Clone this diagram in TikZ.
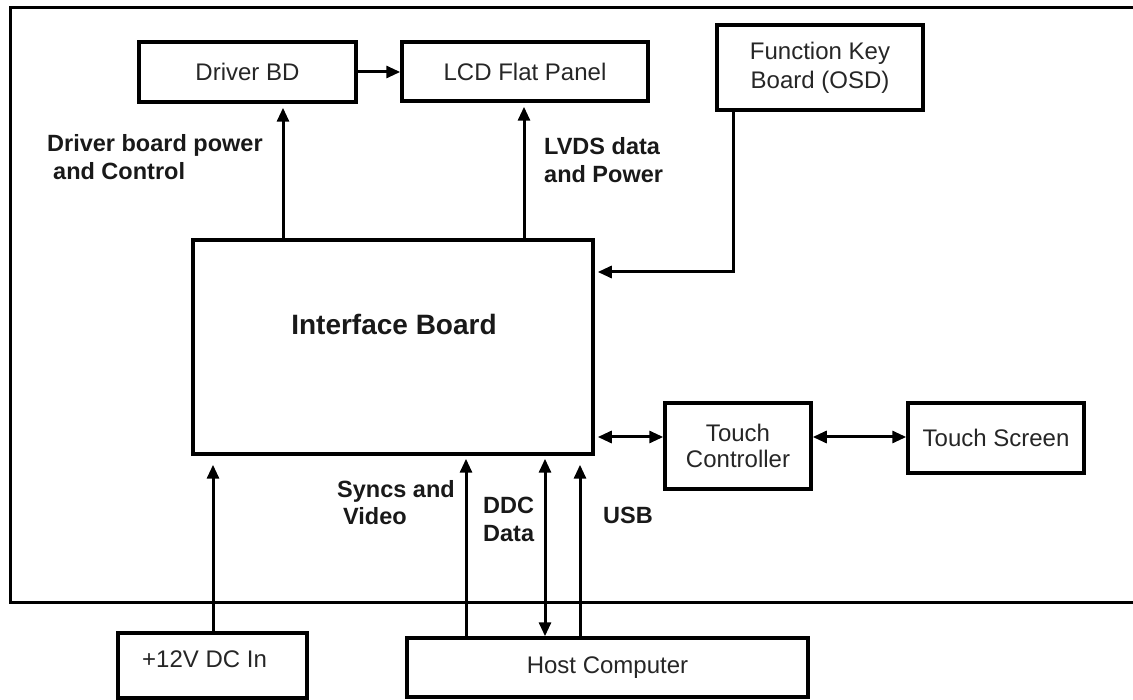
\documentclass[tikz,border=0pt]{standalone}
\usepackage{fontspec}
\setmainfont{Liberation Sans}
\usetikzlibrary{arrows.meta}
\newcommand\fsz[2]{\fontsize{#1}{#2}\selectfont}
\begin{document}
\begin{tikzpicture}[x=1pt,y=-1pt,
  box/.style={draw, line width=3.5pt, inner sep=0pt, align=center, font=\fsz{24}{28}, text=black!85},
  lbl/.style={anchor=base west, inner sep=0pt, align=left, font=\bfseries\fsz{23.5}{28.5}, text=black!90},
  tip/.tip={Triangle[length=14pt,width=12pt]},
  arr/.style={line width=3pt, -tip},
  darr/.style={line width=3pt, tip-tip}
]
\useasboundingbox (0,0) rectangle (1133,700);
% outer frame (open to the right)
\draw[line width=3pt] (1133,7.5) -- (10,7.5) -- (10,602) -- (1133,602);

% boxes
\node[box, minimum width=217pt, minimum height=60pt] (drv) at (247.5,72) {Driver BD};
\node[box, minimum width=246pt, minimum height=59pt] (lcd) at (525,71.5) {LCD Flat Panel};
\node[box, minimum width=206pt, minimum height=85pt, font=\fsz{24}{29}] (fk) at (820,67.5) {Function Key\\Board (OSD)};
\node[box, minimum width=400pt, minimum height=214pt] (ib) at (393,347) {};
\node[anchor=base, inner sep=0pt, font=\bfseries\fsz{28}{32}, text=black!90] (ibt) at (394,335) {Interface Board};
\node[box, minimum width=146pt, minimum height=86pt, font=\fsz{24}{26.5}] (tc) at (738,446) {Touch\\Controller};
\node[box, minimum width=176pt, minimum height=70pt] (ts) at (996,438) {Touch Screen};
\node[box, minimum width=401pt, minimum height=59pt] (host) at (607.5,667.5) {Host Computer};
\node[box, minimum width=189pt, minimum height=65pt] (dc) at (212.5,665.5) {};
\node[anchor=base west, inner sep=0pt, font=\fsz{24}{28}, text=black!85] (dct) at (142,667) {+12V DC In};

% labels (base = baseline of last line)
\node[lbl] (l1) at (47,180) {Driver board power\\\hspace*{6pt}and Control};
\node[lbl] (l2) at (544,183) {LVDS data\\and Power};
\node[lbl, font=\bfseries\fsz{23.5}{27}] (l3) at (337,524) {Syncs and\\\hspace*{6pt}Video};
\node[lbl, font=\bfseries\fsz{23.5}{28}] (l4) at (483,541) {DDC\\Data};
\node[lbl] (l5) at (603,523) {USB};

% helper coordinates
\coordinate (xd) at (283,0);
\coordinate (xl) at (524,0);
\coordinate (xf) at (733,0);
\coordinate (fkc) at (733,272);
\coordinate (yt) at (0,437);
\coordinate (xs) at (466,0);
\coordinate (xddc) at (545,0);
\coordinate (xusb) at (580,0);
\coordinate (xdc) at (213,0);

% connectors
\draw[arr] (drv.east) -- (drv.east -| lcd.west);
\draw[arr, shorten >=4pt] (xd |- ib.north) -- (xd |- drv.south);
\draw[arr, shorten >=4pt] (xl |- ib.north) -- (xl |- lcd.south);
\draw[arr, shorten >=3pt] (xf |- fk.south) -- (fkc) -- (fkc -| ib.east);
\draw[darr, shorten <=3pt] (yt -| ib.east) -- (yt -| tc.west);
\draw[darr] (yt -| tc.east) -- (yt -| ts.west);
\draw[arr, shorten >=3pt] (xs |- host.north) -- (xs |- ib.south);
\draw[darr, shorten >=3pt] (xddc |- host.north) -- (xddc |- ib.south);
\draw[arr, shorten >=9pt] (xusb |- host.north) -- (xusb |- ib.south);
\draw[arr, shorten >=9pt] (xdc |- dc.north) -- (xdc |- ib.south);
\end{tikzpicture}
\end{document}
